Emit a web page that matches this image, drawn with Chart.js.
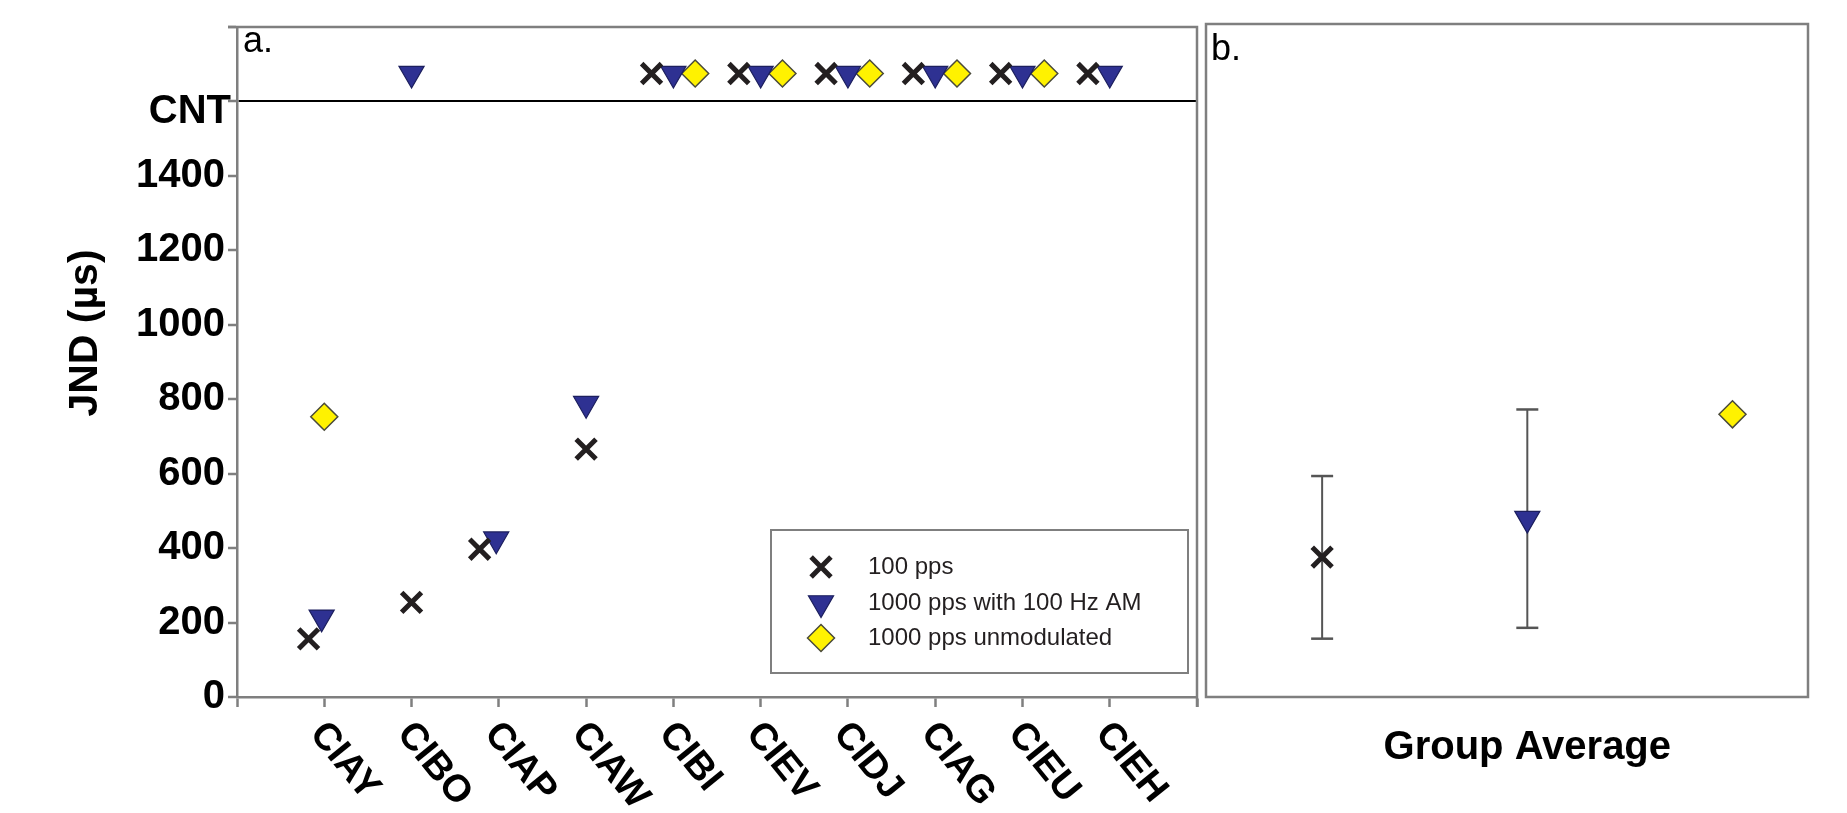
<!DOCTYPE html>
<html>
<head>
<meta charset="utf-8">
<title>JND by subject</title>
<script src="https://cdn.jsdelivr.net/npm/chart.js@4.4.1/dist/chart.umd.min.js"></script>
<style>
  html, body { margin: 0; padding: 0; background: #fff; }
  #wrap { position: relative; width: 1847px; height: 813px; }
  canvas { position: absolute; top: 0; }
  #subjChart { left: 0; }
  #avgChart { left: 1200px; }
</style>
</head>
<body>
<div id="wrap">
  <canvas id="subjChart" width="1200" height="813"></canvas>
  <canvas id="avgChart" width="647" height="813"></canvas>
</div>
<script>
const subjects = ["CIAY", "CIBO", "CIAP", "CIAW", "CIBI", "CIEV", "CIDJ", "CIAG", "CIEU", "CIEH"]
const seriesNames = ["100 pps", "1000 pps with 100 Hz AM", "1000 pps unmodulated"]

// JND in microseconds, "CNT" = could not test (plotted in the strip on top)
const pps100 = [156, 254, 397, 666, "CNT", "CNT", "CNT", "CNT", "CNT", "CNT"]
const pps1000am = [214, "CNT", 424, 788, "CNT", "CNT", "CNT", "CNT", "CNT", "CNT"]
const pps1000unmod = [753, null, null, null, "CNT", "CNT", "CNT", "CNT", "CNT", null]

// sideways nudge (in category units) so overlapping symbols stay visible
const shift100 = [-0.18, 0, -0.22, 0, -0.25, -0.25, -0.25, -0.25, -0.25, -0.25]
const shiftAm = [-0.03, 0, -0.03, 0, 0, 0, 0, 0, 0, 0]
const shiftUnmod = [0, 0, 0, 0, 0.25, 0.25, 0.25, 0.25, 0.25, 0]

const yTicks = [0, 200, 400, 600, 800, 1000, 1200, 1400]
const CNT_LINE = 1600
const CNT_Y = 1675
const Y_MAX = 1800

// group average panel: mean with error bar
const groupLabel = "Group Average"
const groupMean = [374, 477, 756]
const groupLow = [156, 185, null]
const groupHigh = [591, 769, null]

const FONT = "'Liberation Sans', Arial, sans-serif"
const GREY = "#7f7f7f"

const styles = [
  { pointStyle: "crossRot", radius: 14, rotation: 0, borderWidth: 5, bg: "#231f20", border: "#231f20" },
  { pointStyle: "triangle", radius: 14.5, rotation: 180, borderWidth: 1.2, bg: "#2e3192", border: "#1c1f5e" },
  { pointStyle: "rectRot", radius: 13.5, rotation: 0, borderWidth: 1.5, bg: "#fff200", border: "#4a4a3a" },
]

function toPoints(values, shift) {
  const pts = []
  values.forEach((v, i) => {
    if (v === null) return
    pts.push({ x: i + 1 + shift[i], y: v === "CNT" ? CNT_Y : v })
  })
  return pts
}

function markerSet(label, data, st) {
  return {
    label: label,
    data: data,
    showLine: false,
    pointStyle: st.pointStyle,
    pointRadius: st.radius,
    pointRotation: st.rotation,
    pointBorderWidth: st.borderWidth,
    pointBackgroundColor: st.bg,
    pointBorderColor: st.border,
  }
}

Chart.defaults.font.family = FONT
Chart.defaults.color = "#000"

const subjDecor = {
  id: "subjDecor",
  afterDraw(chart) {
    const ctx = chart.ctx
    const a = chart.chartArea
    const x = chart.scales.x
    const y = chart.scales.y
    ctx.save()

    // top and right edge of the frame
    ctx.strokeStyle = GREY
    ctx.lineWidth = 2.5
    ctx.beginPath()
    ctx.moveTo(a.left - 9, a.top)
    ctx.lineTo(a.right, a.top)
    ctx.lineTo(a.right, a.bottom + 10)
    ctx.stroke()

    // "CNT" sits a little under its line
    ctx.fillStyle = "#000"
    ctx.font = "bold 40px " + FONT
    ctx.textAlign = "right"
    ctx.textBaseline = "middle"
    ctx.fillText("CNT", a.left - 6, y.getPixelForValue(CNT_LINE) + 11)

    // slanted subject names
    ctx.font = "bold 38px " + FONT
    ctx.textAlign = "left"
    subjects.forEach((s, i) => {
      ctx.save()
      ctx.translate(x.getPixelForValue(i + 1), a.bottom + 14)
      ctx.rotate((51 * Math.PI) / 180)
      ctx.fillText(s, 8, 16)
      ctx.restore()
    })

    // y axis title
    ctx.save()
    ctx.translate(86, 333)
    ctx.rotate(-Math.PI / 2)
    ctx.textAlign = "center"
    ctx.font = "bold 41px " + FONT
    ctx.fillText("JND (µs)", 0, 0)
    ctx.restore()

    // panel letter
    ctx.font = "36px " + FONT
    ctx.textBaseline = "alphabetic"
    ctx.fillText("a.", a.left + 6, 52)

    // legend box
    ctx.strokeStyle = GREY
    ctx.lineWidth = 2
    ctx.strokeRect(771, 530, 417, 143)
    const rows = [567, 603, 638]
    ctx.font = "24px " + FONT
    ctx.textBaseline = "middle"
    seriesNames.forEach((name, i) => {
      const st = styles[i]
      ctx.fillStyle = st.bg
      ctx.strokeStyle = st.border
      ctx.lineWidth = st.borderWidth
      Chart.helpers.drawPoint(ctx, {
        pointStyle: st.pointStyle,
        rotation: st.rotation,
        radius: st.radius,
        borderWidth: st.borderWidth,
      }, 821, rows[i])
      ctx.fillStyle = "#231f20"
      ctx.fillText(name, 868, rows[i])
    })
    ctx.restore()
  },
}

new Chart(document.getElementById("subjChart"), {
  type: "scatter",
  data: {
    datasets: [
      markerSet(seriesNames[0], toPoints(pps100, shift100), styles[0]),
      markerSet(seriesNames[1], toPoints(pps1000am, shiftAm), styles[1]),
      markerSet(seriesNames[2], toPoints(pps1000unmod, shiftUnmod), styles[2]),
    ],
  },
  options: {
    responsive: false,
    animation: false,
    events: [],
    layout: { autoPadding: false, padding: { top: 24, right: 3, left: 0, bottom: 0 } },
    plugins: { legend: { display: false }, tooltip: { enabled: false } },
    scales: {
      x: {
        type: "linear",
        min: 0,
        max: subjects.length + 1,
        ticks: { stepSize: 1, display: false },
        grid: { color: "transparent", tickColor: GREY, tickLength: 10, tickWidth: 2.5 },
        border: { color: GREY, width: 2.5 },
        afterFit(scale) { scale.height = 116 },
      },
      y: {
        min: 0,
        max: Y_MAX,
        afterBuildTicks(scale) {
          scale.ticks = yTicks.concat([CNT_LINE, Y_MAX]).map((v) => ({ value: v }))
        },
        ticks: {
          padding: 3,
          font: { size: 40, weight: "bold" },
          callback: (v) => (v >= CNT_LINE ? "" : v),
        },
        grid: {
          color: (c) => (c.tick && c.tick.value === CNT_LINE ? "#000" : "transparent"),
          lineWidth: 2,
          tickColor: GREY,
          tickLength: 9,
          tickWidth: 2.5,
        },
        border: { color: GREY, width: 2.5 },
        afterFit(scale) { scale.width = 237 },
      },
    },
  },
  plugins: [subjDecor],
})

const avgDecor = {
  id: "avgDecor",
  afterDraw(chart) {
    const ctx = chart.ctx
    const a = chart.chartArea
    ctx.save()
    ctx.strokeStyle = GREY
    ctx.lineWidth = 2.5
    ctx.strokeRect(a.left, a.top, a.right - a.left, a.bottom - a.top)
    ctx.fillStyle = "#000"
    ctx.font = "36px " + FONT
    ctx.textBaseline = "alphabetic"
    ctx.fillText("b.", a.left + 5, 60)
    ctx.font = "bold 40px " + FONT
    ctx.textAlign = "center"
    ctx.textBaseline = "middle"
    ctx.fillText(groupLabel, chart.scales.x.getPixelForValue(2), 748)
    ctx.restore()
  },
}

const avgSets = groupMean.map((m, i) => markerSet(seriesNames[i], [{ x: i + 1, y: m }], styles[i]))
groupLow.forEach((lo, i) => {
  if (lo === null) return
  avgSets.push({
    label: seriesNames[i] + " range",
    data: [{ x: i + 1, y: lo }, { x: i + 1, y: groupHigh[i] }],
    showLine: true,
    borderColor: "#555",
    borderWidth: 2,
    pointStyle: "line",
    pointRadius: 11,
    pointBorderWidth: 2.5,
    pointBorderColor: "#555",
  })
})

new Chart(document.getElementById("avgChart"), {
  type: "scatter",
  data: { datasets: avgSets },
  options: {
    responsive: false,
    animation: false,
    events: [],
    layout: { autoPadding: false, padding: { top: 24, left: 6, right: 39, bottom: 116 } },
    plugins: { legend: { display: false }, tooltip: { enabled: false } },
    scales: {
      x: { type: "linear", min: 0.434, max: 3.368, display: false },
      y: { min: 0, max: Y_MAX, display: false },
    },
  },
  plugins: [avgDecor],
})
</script>
</body>
</html>
